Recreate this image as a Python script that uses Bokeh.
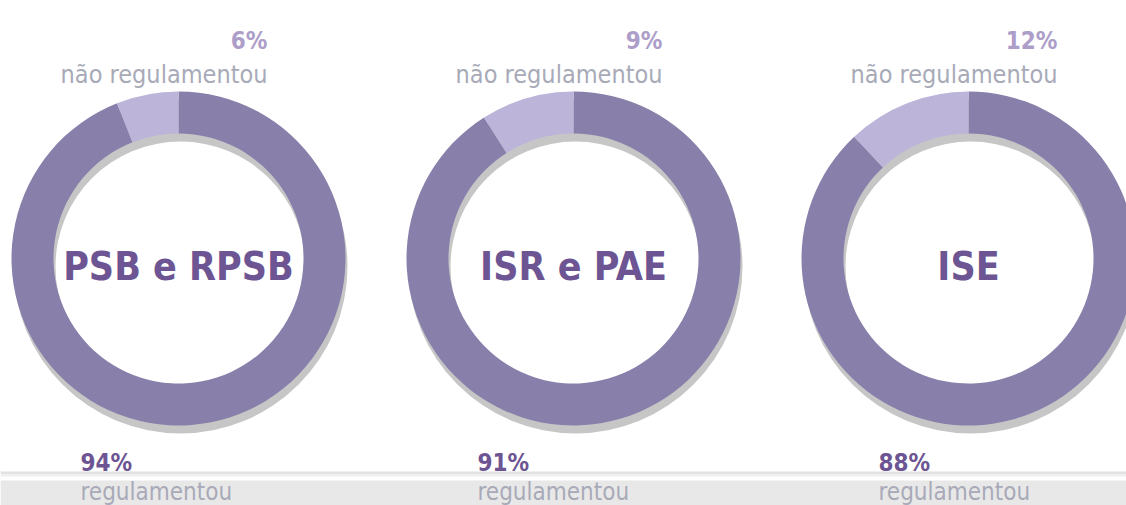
import math
from bokeh.plotting import figure
from bokeh.models import Range1d, ColumnDataSource
from bokeh.core.properties import value
from bokeh.embed import file_html
from bokeh.resources import INLINE

# ---- data ----
categories = ["PSB e RPSB", "ISR e PAE", "ISE"]
nao_regulamentou = [6, 9, 12]
regulamentou = [94, 91, 88]
label_top = "não regulamentou"
label_bottom = "regulamentou"

# ---- layout (screen-pixel coordinates of the page) ----
W, H = 1126, 505
def Y(py):
    return H - py

centers_x = [178, 573, 968]
cy = 258
r_out, r_in = 167, 125

PURPLE = "#8880ab"
LIGHT = "#bcb4d9"
SHADOW = "#c6c6c6"
DARK_TXT = "#6c5592"
LIGHT_TXT = "#ad9ec9"
GRAY_TXT = "#a8aab8"
FONT = "'DejaVu Sans Condensed', 'Liberation Sans Narrow', Roboto"

p = figure(width=W, height=H, x_range=Range1d(0, W), y_range=Range1d(0, H),
           output_backend="svg", toolbar_location=None, min_border=0)
p.axis.visible = False
p.grid.visible = False
p.outline_line_color = None
p.background_fill_color = "white"

# bottom band
p.quad(left=[0], right=[W], bottom=[Y(505)], top=[Y(480)], fill_color="#e8e8e8", line_color=None)
p.quad(left=[0], right=[W], bottom=[Y(474)], top=[Y(471)], fill_color="#e2e2e2", line_color=None)
p.quad(left=[0], right=[W], bottom=[Y(476)], top=[Y(474)], fill_color="#f0f0f0", line_color=None)

# shadows
p.annular_wedge(x=[c + 2 for c in centers_x], y=[Y(cy + 8)] * 3, inner_radius=r_in, outer_radius=r_out,
                start_angle=0, end_angle=2 * math.pi, fill_color=SHADOW, line_color=None,
                inner_radius_units="screen", outer_radius_units="screen")

# rings
top = math.pi / 2
light_start, light_end, dark_start, dark_end = [], [], [], []
for n in nao_regulamentou:
    a = 2 * math.pi * n / 100.0
    light_start.append(top)
    light_end.append(top + a)
    dark_start.append(top + a)
    dark_end.append(top + 2 * math.pi)

src = ColumnDataSource(dict(x=centers_x, y=[Y(cy)] * 3, ls=light_start, le=light_end,
                            ds=dark_start, de=dark_end))
p.annular_wedge(x="x", y="y", inner_radius=r_in, outer_radius=r_out, start_angle="ds", end_angle="de",
                direction="anticlock", fill_color=PURPLE, line_color=None, source=src,
                inner_radius_units="screen", outer_radius_units="screen")
p.annular_wedge(x="x", y="y", inner_radius=r_in, outer_radius=r_out, start_angle="ls", end_angle="le",
                direction="anticlock", fill_color=LIGHT, line_color=None, source=src,
                inner_radius_units="screen", outer_radius_units="screen")

# center labels
p.text(x=centers_x, y=[Y(266)] * 3, text=categories, text_font=value(FONT), text_font_style="bold",
       text_font_size="39px", text_align="center", text_baseline="middle", text_color=DARK_TXT)

# top labels
p.text(x=[c + 89 for c in centers_x], y=[Y(40)] * 3, text=[f"{v}%" for v in nao_regulamentou],
       text_font=value(FONT), text_font_style="bold", text_font_size="24px",
       text_align="right", text_baseline="alphabetic", text_color=LIGHT_TXT)
p.text(x=[c + 89 for c in centers_x], y=[Y(74)] * 3, text=[label_top] * 3,
       text_font=value(FONT), text_font_size="25px",
       text_align="right", text_baseline="alphabetic", text_color=GRAY_TXT)

# bottom labels
bx = [80, 477, 878]
p.text(x=bx, y=[Y(462)] * 3, text=[f"{v}%" for v in regulamentou],
       text_font=value(FONT), text_font_style="bold", text_font_size="24px",
       text_align="left", text_baseline="alphabetic", text_color=DARK_TXT)
p.text(x=bx, y=[Y(491)] * 3, text=[label_bottom] * 3,
       text_font=value(FONT), text_font_size="24px",
       text_align="left", text_baseline="alphabetic", text_color=GRAY_TXT)

open("out.html", "w").write(file_html(p, INLINE))
